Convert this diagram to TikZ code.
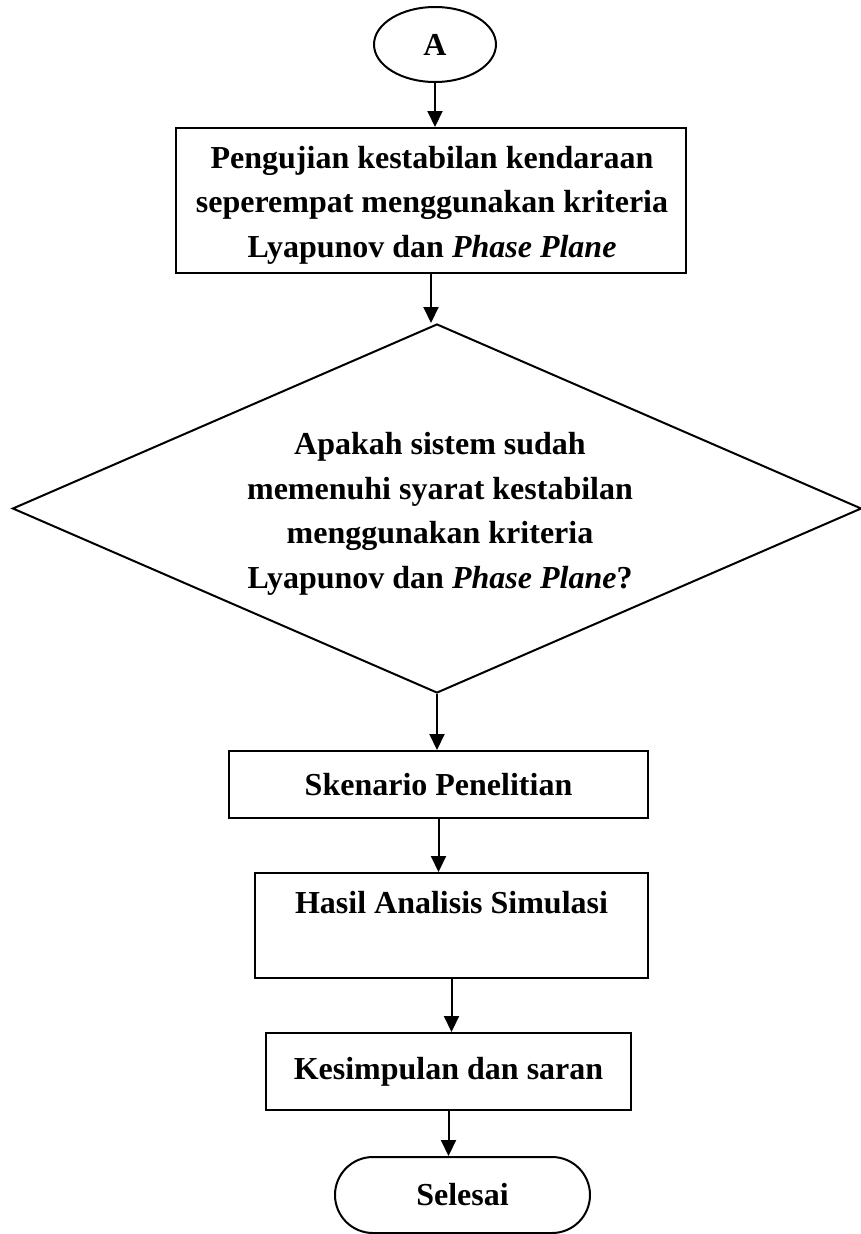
\documentclass[tikz,border=0pt]{standalone}
\usepackage{fontspec}
\setmainfont{Liberation Serif}
\usetikzlibrary{shapes.geometric,arrows.meta}
\begin{document}
\begin{tikzpicture}[x=1pt,y=-1pt,
  every node/.style={font=\fontsize{32}{44.5}\selectfont\bfseries, align=center, inner sep=0pt},
  box/.style={draw, line width=2pt, rectangle},
  term/.style={draw, line width=2pt, rectangle, rounded corners=38pt},
  ell/.style={draw, line width=2pt, ellipse},
  dia/.style={draw, line width=2pt, diamond, aspect=2.3},
  arr/.style={line width=2pt, -{Triangle[width=15pt,length=16pt]}}]
\useasboundingbox (0,0) rectangle (861,1234);
\node[ell, minimum width=122pt, minimum height=75pt] (A) at (435,44.5) {A};
\node[box, minimum width=510pt, minimum height=145pt] (B1) at (431,200.5) {};
\node (B1t) at (432,205)
  {Pengujian kestabilan kendaraan\\seperempat menggunakan kriteria\\Lyapunov dan \textit{Phase Plane}};
\node[dia, minimum width=849pt, minimum height=369pt] (D) at (437,508.5) {};
\node (Dt) at (440,514) {Apakah sistem sudah\\memenuhi syarat kestabilan\\menggunakan kriteria\\Lyapunov dan \textit{Phase Plane}?};
\node[box, minimum width=419pt, minimum height=67pt] (B2) at (438.5,784.5) {Skenario Penelitian};
\node[box, minimum width=393pt, minimum height=105pt] (B3) at (451.5,925.5) {};
\node (B3t) at (451.5,903) {Hasil Analisis Simulasi};
\node[box, minimum width=365pt, minimum height=77pt] (B4) at (448.5,1071.5) {Kesimpulan dan saran};
\node[term, minimum width=255pt, minimum height=76pt] (E) at (462.5,1195) {Selesai};
\draw[arr] (A.south) -- (A.south |- B1.north);
\draw[arr] (B1.south) -- (B1.south |- D.north);
\draw[arr] (D.south) -- (D.south |- B2.north);
\draw[arr] (B2.south) -- (B2.south |- B3.north);
\draw[arr] (B3.south) -- (B3.south |- B4.north);
\draw[arr] (B4.south) -- (B4.south |- E.north);
\end{tikzpicture}
\end{document}
